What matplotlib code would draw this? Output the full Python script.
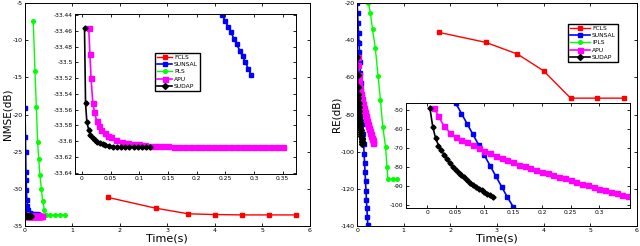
import matplotlib
matplotlib.use('Agg')
from matplotlib import pyplot as plt
from matplotlib.ticker import FuncFormatter

# FCLS
fcls_t = [1.75, 2.76, 3.44, 4.0, 4.58, 5.14, 5.72]
fcls_nmse = [-31.15, -32.6, -33.35, -33.45, -33.5, -33.5, -33.5]
fcls_re = [-35.8, -41.2, -47.5, -56.5, -71.2, -71.2, -71.2]

# SUNSAL
sunsal_t_nmse = [0.0, 0.01, 0.015, 0.02, 0.025, 0.03, 0.04, 0.05, 0.07, 0.1, 0.15, 0.2,
                 0.245, 0.25, 0.255, 0.26, 0.265, 0.27, 0.275, 0.28, 0.285, 0.29, 0.295]
sunsal_nmse = [-19.1, -23.0, -25.0, -27.7, -28.8, -30.2, -31.5, -32.3, -32.9, -33.2, -33.35, -33.41,
               -33.44, -33.448, -33.455, -33.462, -33.47, -33.477, -33.485, -33.492, -33.5, -33.508, -33.516]
sunsal_t_re = [0.0, 0.01, 0.02, 0.03, 0.04, 0.05, 0.06, 0.07, 0.08, 0.09, 0.1, 0.11, 0.12,
               0.13, 0.14, 0.15, 0.16, 0.17, 0.18, 0.19, 0.2, 0.21, 0.22, 0.23, 0.24]
sunsal_re = [-20, -25.5, -31, -36, -41.5, -46.5, -52, -57.5, -63, -68.5, -74, -79.5, -85,
             -90.5, -96, -101, -106, -111, -116, -121, -126, -130.5, -135, -139.5, -144]

# IPLS
ipls_t_nmse = [0.175, 0.21, 0.24, 0.267, 0.29, 0.316, 0.345, 0.372, 0.41, 0.44, 0.53, 0.63, 0.74, 0.84]
ipls_nmse = [-7.4, -14.1, -19.0, -23.7, -26.0, -28.2, -30.0, -31.6, -32.8, -33.5, -33.5, -33.5, -33.5, -33.5]
ipls_t_re = [0.175, 0.21, 0.243, 0.285, 0.33, 0.39, 0.45, 0.5, 0.55, 0.61, 0.64, 0.66, 0.76, 0.86]
ipls_re = [-12, -16, -20, -25.4, -34, -44.2, -59.5, -72, -86.5, -97.3, -108, -114.5, -114.5, -114.5]

# APU
apu_t_nmse = [0.012, 0.014, 0.016, 0.019, 0.022, 0.026, 0.03, 0.034, 0.04, 0.045, 0.05, 0.06, 0.07,
              0.08, 0.09, 0.1, 0.11, 0.12, 0.13, 0.14, 0.15, 0.16, 0.17, 0.18, 0.19, 0.2, 0.21,
              0.22, 0.23, 0.24, 0.25, 0.26, 0.27, 0.28, 0.29, 0.3, 0.31, 0.32, 0.33, 0.34, 0.35]
apu_nmse = [-33.457, -33.49, -33.52, -33.551, -33.563, -33.575, -33.581, -33.586, -33.59, -33.593,
            -33.595, -33.598, -33.601, -33.602, -33.603, -33.604, -33.605, -33.606, -33.606, -33.606,
            -33.606, -33.607, -33.607, -33.607, -33.607, -33.607, -33.607, -33.607, -33.607, -33.607,
            -33.607, -33.607, -33.607, -33.607, -33.607, -33.607, -33.607, -33.607, -33.607, -33.607, -33.607]
apu_t_re = [0.013, 0.02, 0.03, 0.04, 0.05, 0.06, 0.07, 0.08, 0.09, 0.1, 0.11, 0.12, 0.13, 0.14,
            0.15, 0.16, 0.17, 0.18, 0.19, 0.2, 0.21, 0.22, 0.23, 0.24, 0.25, 0.26, 0.27, 0.28,
            0.29, 0.3, 0.31, 0.32, 0.33, 0.34, 0.35]
apu_re = [-49.0, -53.5, -58.8, -62.0, -64.2, -65.8, -67.2, -68.7, -70.2, -71.7, -72.9, -74.1, -75.3,
          -76.5, -77.7, -78.9, -79.8, -80.8, -81.7, -82.6, -83.5, -84.3, -85.2, -86.1, -87.0, -87.9,
          -88.8, -89.7, -90.6, -91.5, -92.4, -93.2, -93.9, -94.6, -95.3]

# SUDAP
sudap_t_nmse = [0.0046, 0.0064, 0.0087, 0.012, 0.015, 0.019, 0.023, 0.027, 0.031, 0.036, 0.041,
                0.048, 0.055, 0.062, 0.069, 0.076, 0.083, 0.09, 0.097, 0.104, 0.111, 0.118]
sudap_nmse = [-33.457, -33.552, -33.576, -33.586, -33.592, -33.596, -33.599, -33.601, -33.602,
              -33.604, -33.605, -33.606, -33.607, -33.607, -33.607, -33.607, -33.607, -33.607,
              -33.607, -33.607, -33.607, -33.607]
sudap_t_re = [0.005, 0.01, 0.015, 0.02, 0.025, 0.03, 0.035, 0.04, 0.045, 0.05, 0.055, 0.06,
              0.065, 0.07, 0.075, 0.08, 0.085, 0.09, 0.095, 0.1, 0.105, 0.11, 0.115]
sudap_re = [-49, -59, -65, -68.8, -71.3, -73.8, -75.8, -78.0, -80.0, -81.6, -83.1, -84.3,
            -85.6, -87.0, -88.3, -89.5, -90.6, -91.5, -92.4, -93.2, -94.1, -94.9, -95.6]

labels_left = ['FCLS', 'SUNSAL', 'PLS', 'APU', 'SUDAP']
labels_right = ['FCLS', 'SUNSAL', 'IPLS', 'APU', 'SUDAP']


def gfmt(v, pos):
    return '%g' % v


def style(ax, fs=4.5):
    ax.tick_params(direction='in', top=True, right=True, labelsize=fs, length=2.5, width=0.6, pad=1.5)
    for s in ax.spines.values():
        s.set_linewidth(0.7)
    ax.yaxis.set_major_formatter(FuncFormatter(gfmt))
    ax.xaxis.set_major_formatter(FuncFormatter(gfmt))


def draw(ax, t_list, y_list, big=False):
    lines = []
    lines += ax.plot(t_list[0], y_list[0], '-s', color='red', lw=1, ms=2.2)
    lines += ax.plot(t_list[1], y_list[1], '-s', color='blue', lw=1.2, ms=3.2)
    lines += ax.plot(t_list[2], y_list[2], '-o', color='#00ff00', lw=1, ms=2.6)
    lines += ax.plot(t_list[3], y_list[3], '-s', color='magenta', lw=1.2, ms=3.6)
    lines += ax.plot(t_list[4], y_list[4], '-D', color='black', lw=1.2, ms=3.0 if big else 2.6)
    return lines


fig = plt.figure(figsize=(6.4, 2.46), dpi=100)

# NMSE panel
ax1 = fig.add_axes([0.039, 0.081, 0.445, 0.907])
t_nmse = [fcls_t, sunsal_t_nmse, ipls_t_nmse, apu_t_nmse, sudap_t_nmse]
y_nmse = [fcls_nmse, sunsal_nmse, ipls_nmse, apu_nmse, sudap_nmse]
h1 = draw(ax1, t_nmse, y_nmse, big=True)
ax1.set_xlim(0, 6)
ax1.set_ylim(-35, -5)
ax1.set_yticks([-5, -10, -15, -20, -25, -30, -35])
ax1.set_xticks([0, 1, 2, 3, 4, 5, 6])
ax1.set_xlabel('Time(s)', fontsize=8, labelpad=0)
ax1.set_ylabel('NMSE(dB)', fontsize=7.5, labelpad=0)
style(ax1)

ins1 = fig.add_axes([0.117, 0.293, 0.345, 0.650])
draw(ins1, t_nmse, y_nmse)
ins1.set_xlim(-0.0122, 0.3727)
ins1.set_ylim(-33.6416, -33.4387)
ins1.set_xticks([0, 0.05, 0.1, 0.15, 0.2, 0.25, 0.3, 0.35])
ins1.set_yticks([-33.44, -33.46, -33.48, -33.5, -33.52, -33.54, -33.56, -33.58, -33.6, -33.62, -33.64])
style(ins1, 4.3)

fig.legend(h1, labels_left, loc='upper left', bbox_to_anchor=(0.2375, 0.797),
           bbox_transform=fig.transFigure, fontsize=4.3, handlelength=2.6, labelspacing=0.35,
           borderpad=0.3, handletextpad=0.3, fancybox=False, edgecolor='black', framealpha=1)

# RE panel
ax2 = fig.add_axes([0.558, 0.081, 0.437, 0.907])
t_re = [fcls_t, sunsal_t_re, ipls_t_re, apu_t_re, sudap_t_re]
y_re = [fcls_re, sunsal_re, ipls_re, apu_re, sudap_re]
h2 = draw(ax2, t_re, y_re, big=True)
ax2.set_xlim(0, 6)
ax2.set_ylim(-140, -20)
ax2.set_yticks([-20, -40, -60, -80, -100, -120, -140])
ax2.set_xticks([0, 1, 2, 3, 4, 5, 6])
ax2.set_xlabel('Time(s)', fontsize=8, labelpad=0)
ax2.set_ylabel('RE(dB)', fontsize=7.5, labelpad=0)
style(ax2)

ins2 = fig.add_axes([0.634, 0.154, 0.35, 0.427])
draw(ins2, t_re, y_re)
ins2.set_xlim(-0.037, 0.353)
ins2.set_ylim(-101.7, -46.5)
ins2.set_xticks([0, 0.05, 0.1, 0.15, 0.2, 0.25, 0.3])
ins2.set_yticks([-50, -60, -70, -80, -90, -100])
style(ins2, 4.3)

fig.legend(h2, labels_right, loc='upper left', bbox_to_anchor=(0.883, 0.915),
           bbox_transform=fig.transFigure, fontsize=4.3, handlelength=3.4, labelspacing=0.35,
           borderpad=0.3, handletextpad=0.3, fancybox=False, edgecolor='black', framealpha=1)

plt.savefig('out.png', dpi=100)
plt.close()
